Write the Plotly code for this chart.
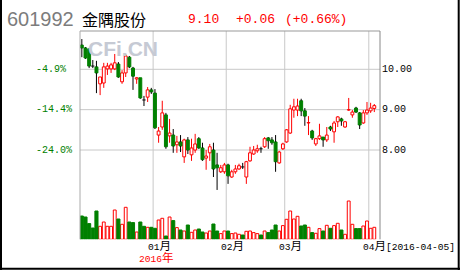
import plotly.graph_objects as go

# ---- data ----
opens = [10.60, 10.53, 10.50, 10.08, 10.06, 9.64, 9.66, 10.01, 10.01, 10.01,
         10.13, 9.69, 9.91, 10.30, 10.03, 9.76, 9.79, 9.24, 9.31, 9.49,
         9.41, 8.37, 8.57, 8.87, 8.35, 8.37, 8.13, 8.20, 7.83, 8.25,
         7.88, 8.00, 8.28, 8.05, 7.80, 7.93, 8.00, 7.63, 7.46, 7.46,
         7.63, 7.33, 7.46, 7.53, 7.58, 7.33, 7.73, 7.90, 7.98, 8.03,
         8.08, 8.30, 8.25, 8.20, 7.68, 8.03, 8.20, 8.42, 8.99, 8.99,
         9.22, 8.97, 8.67, 8.47, 8.15, 8.28, 8.32, 8.25, 8.57, 8.45,
         8.70, 8.77, 8.57, 8.99, 8.87, 9.04, 8.92, 8.67, 8.92, 8.97,
         9.03]
highs = [10.75, 10.55, 10.53, 10.23, 10.21, 9.81, 10.16, 10.16, 10.16, 10.38,
         10.18, 9.98, 10.38, 10.33, 10.06, 9.81, 9.79, 9.34, 9.56, 9.54,
         9.51, 8.57, 9.22, 8.92, 8.77, 8.52, 8.35, 8.37, 8.28, 8.32,
         8.28, 8.40, 8.32, 8.18, 8.00, 8.15, 8.18, 7.93, 7.63, 7.68,
         7.66, 7.51, 7.63, 7.66, 7.68, 7.73, 8.08, 8.10, 8.13, 8.08,
         8.32, 8.32, 8.32, 8.37, 7.98, 8.18, 8.52, 9.12, 9.27, 9.27,
         9.27, 9.04, 8.84, 8.50, 8.30, 8.65, 8.32, 8.57, 8.60, 8.72,
         8.84, 8.80, 8.72, 9.29, 8.99, 9.07, 8.94, 8.99, 9.19, 9.17,
         9.14]
lows = [10.30, 10.26, 10.03, 10.03, 9.41, 9.36, 9.54, 9.86, 9.91, 9.98,
        9.79, 9.64, 9.81, 10.03, 9.49, 9.64, 9.27, 9.09, 9.19, 9.39,
        8.52, 8.18, 8.50, 8.03, 8.18, 7.93, 7.93, 7.95, 7.68, 7.90,
        7.73, 7.93, 8.03, 7.73, 7.51, 7.73, 7.33, 7.01, 7.43, 7.41,
        7.16, 7.31, 7.41, 7.51, 7.53, 7.16, 7.71, 7.88, 7.93, 7.93,
        8.05, 8.03, 8.13, 7.46, 7.66, 8.00, 8.18, 8.40, 8.80, 8.84,
        8.84, 8.60, 8.37, 8.25, 8.10, 8.25, 8.08, 8.20, 8.47, 8.18,
        8.57, 8.60, 8.55, 8.97, 8.80, 8.92, 8.52, 8.65, 8.87, 8.92,
        8.94]
closes = [10.53, 10.28, 10.08, 10.08, 9.91, 9.81, 10.06, 10.08, 10.11, 10.16,
          9.81, 9.91, 10.33, 10.06, 9.83, 9.79, 9.29, 9.24, 9.49, 9.44,
          8.55, 8.47, 8.92, 8.08, 8.42, 8.10, 8.20, 8.10, 8.25, 8.00,
          8.05, 8.15, 8.05, 7.76, 7.85, 8.08, 7.53, 7.56, 7.56, 7.63,
          7.36, 7.46, 7.53, 7.61, 7.58, 7.71, 7.93, 8.00, 8.03, 8.03,
          8.28, 8.23, 8.18, 7.71, 7.95, 8.15, 8.50, 9.02, 9.07, 9.09,
          8.97, 8.84, 8.68, 8.30, 8.28, 8.35, 8.25, 8.37, 8.52, 8.67,
          8.82, 8.72, 8.70, 9.00, 8.94, 8.94, 8.62, 8.92, 8.99, 9.04,
          9.10]
volumes = [23.3, 22.3, 15.7, 11.3, 28.3, 13.0, 17.3, 13.0, 13.0, 29.3,
           20.3, 15.0, 32.0, 17.3, 16.7, 7.3, 17.3, 13.0, 12.0, 12.0,
           11.0, 19.3, 21.0, 3.3, 22.3, 18.7, 11.7, 9.3, 8.3, 14.3,
           7.0, 9.3, 10.3, 7.3, 6.3, 8.3, 15.3, 8.3, 5.7, 8.3,
           8.3, 5.7, 6.3, 5.0, 4.3, 8.0, 8.3, 6.7, 5.7, 4.3,
           8.3, 6.7, 9.3, 14.3, 8.3, 13.7, 20.0, 28.3, 20.3, 23.0,
           13.3, 14.3, 12.0, 6.7, 6.0, 10.7, 8.3, 14.0, 11.0, 13.7,
           16.0, 9.3, 5.0, 38.3, 15.0, 10.7, 10.7, 13.3, 18.3, 11.0,
           12.0]

month_start_idx = [20, 40, 56, 79]
month_labels = ["01月", "02月", "03月", "04月[2016-04-05]"]
year_label = "2016年"
price_ticks = [10.0, 9.0, 8.0]
price_tick_text = ["10.00", "9.00", "8.00"]
pct_tick_text = ["-4.9%", "-14.4%", "-24.0%"]
code = "601992"
name = "金隅股份"
last_price = "9.10"
change = "+0.06"
change_pct = "(+0.66%)"

RED = "#ff0000"
GREEN = "#008000"
MONO = "Liberation Mono, Noto Sans CJK SC, monospace"

N = len(opens)
idx = list(range(N))
up = [i for i in idx if closes[i] > opens[i]]
dn = [i for i in idx if closes[i] <= opens[i]]

# wick segments
wr_x, wr_y, wk_x, wk_y = [], [], [], []
for i in idx:
    o, h, l, c = opens[i], highs[i], lows[i], closes[i]
    top, bot = max(o, c), min(o, c)
    if c > o:
        tx, ty = wr_x, wr_y
    else:
        tx, ty = wk_x, wk_y
    tx += [i, i, None, i, i, None]
    ty += [top, h, None, bot, l, None]
    if c == o:
        wk_x += [i - 0.45, i + 0.45, None]
        wk_y += [o, o, None]

fig = go.Figure()
fig.add_trace(go.Scatter(x=wk_x, y=wk_y, mode="lines", line=dict(color="black", width=1),
                         hoverinfo="skip"))
fig.add_trace(go.Scatter(x=wr_x, y=wr_y, mode="lines", line=dict(color=RED, width=1),
                         hoverinfo="skip"))
fig.add_trace(go.Bar(x=up, base=[opens[i] for i in up],
                     y=[closes[i] - opens[i] for i in up], width=0.78,
                     marker=dict(color="white", line=dict(color=RED, width=1))))
fig.add_trace(go.Bar(x=[i for i in dn if closes[i] < opens[i]],
                     base=[closes[i] for i in dn if closes[i] < opens[i]],
                     y=[opens[i] - closes[i] for i in dn if closes[i] < opens[i]], width=0.8,
                     marker=dict(color=GREEN, line=dict(color=GREEN, width=1))))
# volume
fig.add_trace(go.Bar(x=up, y=[volumes[i] for i in up], width=0.78, yaxis="y2",
                     marker=dict(color="white", line=dict(color=RED, width=1))))
fig.add_trace(go.Bar(x=dn, y=[volumes[i] for i in dn], width=0.85, yaxis="y2",
                     marker=dict(color=GREEN, line=dict(color=GREEN, width=1))))

W, H = 460, 270
PL, PR, PT, PB = 80, 380, 31, 239.3
def fx(x):
    return x / W
def fy(y):
    return 1 - y / H

step = (PR - PL) / 82.06
xr = [-0.5, -0.5 + (PR - PL) / step]
pxu = 40.35
pr = [10 - (PB - 69.3) / pxu, 10 + (69.3 - PT) / pxu]

shapes = []
for p in price_ticks:
    shapes.append(dict(type="line", xref="paper", yref="y", x0=fx(PL), x1=fx(PR), y0=p, y1=p,
                       line=dict(color="#c8c8c8", width=1), layer="below"))
for m in month_start_idx:
    shapes.append(dict(type="line", xref="x", yref="paper", x0=m - 0.5, x1=m - 0.5,
                       y0=fy(PB), y1=fy(PT), line=dict(color="#c8c8c8", width=1), layer="below"))
shapes.append(dict(type="line", xref="paper", yref="paper", x0=fx(PL), x1=fx(PR), y0=fy(PT), y1=fy(PT),
                   line=dict(color="#999999", width=1)))
shapes.append(dict(type="line", xref="paper", yref="paper", x0=fx(PL), x1=fx(PL), y0=fy(PB), y1=fy(PT),
                   line=dict(color="#aaaaaa", width=1)))
shapes.append(dict(type="line", xref="paper", yref="paper", x0=fx(PR), x1=fx(PR), y0=fy(PB), y1=fy(PT),
                   line=dict(color="#888888", width=1)))
shapes.append(dict(type="line", xref="paper", yref="paper", x0=fx(1), x1=fx(1), y0=0, y1=1,
                   line=dict(color="black", width=2)))
shapes.append(dict(type="line", xref="paper", yref="paper", x0=fx(458.7), x1=fx(458.7), y0=0, y1=1,
                   line=dict(color="black", width=2)))
shapes.append(dict(type="line", xref="paper", yref="paper", x0=0, x1=1, y0=fy(268.7), y1=fy(268.7),
                   line=dict(color="black", width=2)))

ann = []
def text(x, y, s, size, color, family=MONO, anchor="left", xref="paper", yref="paper", **kw):
    ann.append(dict(x=x, y=y, xref=xref, yref=yref, text=s, showarrow=False, xanchor=anchor,
                    yanchor="middle", font=dict(size=size, color=color, family=family),
                    borderpad=0, **kw))

def cjk_big(s, size):
    out = ""
    for ch in s:
        if ord(ch) > 0x2E80:
            out += "<span style='font-size:%spx'>%s</span>" % (size, ch)
        else:
            out += ch
    return out

# watermark
text(fx(87), fy(48), "CFi.CN", 21, "#c6cad4", family="Liberation Sans, Arial")
ann[-1]["font"]["weight"] = "bold"
# header
text(fx(6), fy(19.5), code, 20, "#7c7c7c", family="Liberation Sans, Arial")
text(fx(81), fy(19.5), name, 16, "black", family="Noto Sans CJK SC")
text(fx(187), fy(19.5), last_price, 13, RED)
text(fx(235), fy(19.5), change, 13, RED)
text(fx(284), fy(19.5), change_pct, 13, RED)
# axis labels
for p, r, l in zip(price_ticks, price_tick_text, pct_tick_text):
    text(fx(381), p, r, 10, "black", yref="y")
    text(fx(35), p, l, 10, GREEN, yref="y")
for m, lab in zip(month_start_idx, month_labels):
    text(m - 0.5, fy(246.5), cjk_big(lab, 11.5), 9.6, "black", xref="x", xshift=-6.5)
text(month_start_idx[0] - 0.5, fy(258), cjk_big(year_label, 11.5), 9.6, RED, xref="x", xshift=-15.5)

fig.update_layout(
    width=W, height=H, margin=dict(l=0, r=0, t=0, b=0),
    paper_bgcolor="white", plot_bgcolor="white", showlegend=False, barmode="overlay",
    xaxis=dict(domain=[fx(PL), fx(PR)], range=xr, visible=False, fixedrange=True),
    yaxis=dict(domain=[fy(PB), fy(PT)], range=pr, visible=False, fixedrange=True),
    yaxis2=dict(overlaying="y", range=[0, PB - PT], visible=False, fixedrange=True),
    shapes=shapes, annotations=ann,
)
fig.write_html("out.html", config={"displayModeBar": False})
